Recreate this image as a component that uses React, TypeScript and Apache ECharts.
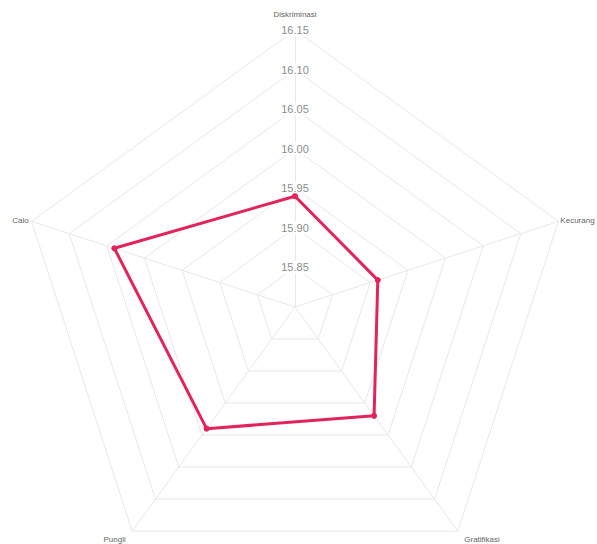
import React, { useEffect, useRef } from "react";
import * as echarts from "echarts";

const categories = ["Diskriminasi", "Kecurang", "Gratifikasi", "Pungli", "Calo"];
const values = [15.94, 15.91, 15.97, 15.99, 16.04];
const scaleMin = 15.8;
const scaleMax = 16.15;
const tickStep = 0.05;
const nameGaps = [4, 2, 11, 11, 3];

export default function App() {
  const ref = useRef<HTMLDivElement>(null);
  useEffect(() => {
    document.body.style.margin = "0";
    const chart = echarts.init(ref.current!, null, { renderer: "svg" });
    // ECharts places indicators counter-clockwise; reverse order after the first one
    const order = [0, ...categories.slice(1).map((_, i) => categories.length - 1 - i)];
    const indicator = order.map((idx, k) => ({
      name: categories[idx],
      min: scaleMin,
      max: scaleMax,
      nameGap: nameGaps[idx],
      axisLabel: { show: k === 0 },
    }));
    const data = order.map((idx) => values[idx]);
    chart.setOption({
      animation: false,
      radar: {
        center: [295, 307],
        radius: 277,
        startAngle: 90,
        shape: "polygon",
        splitNumber: Math.round((scaleMax - scaleMin) / tickStep),
        indicator,
        axisName: {
          color: "#666",
          fontSize: 8,
          fontFamily: "Liberation Sans",
          padding: [0, 0, 8, 0],
        },
        axisLine: { lineStyle: { color: "#e8e8e8", width: 1 } },
        splitLine: { lineStyle: { color: "#e8e8e8", width: 1 } },
        splitArea: { show: false },
        axisTick: { show: false },
        axisLabel: {
          show: true,
          showMinLabel: false,
          margin: 0,
          align: "center",
          verticalAlign: "middle",
          color: "#8c8c8c",
          fontSize: 11,
          fontFamily: "Liberation Sans",
          backgroundColor: "#fff",
          padding: [1, 2],
          formatter: (v: number) => v.toFixed(2),
        },
      },
      series: [
        {
          type: "radar",
          symbol: "circle",
          symbolSize: 6,
          lineStyle: { color: "#e2245a", width: 3 },
          itemStyle: { color: "#e2245a" },
          data: [{ value: data }],
        },
      ],
    });
    return () => chart.dispose();
  }, []);
  return <div ref={ref} style={{ width: 597, height: 544 }} />;
}
